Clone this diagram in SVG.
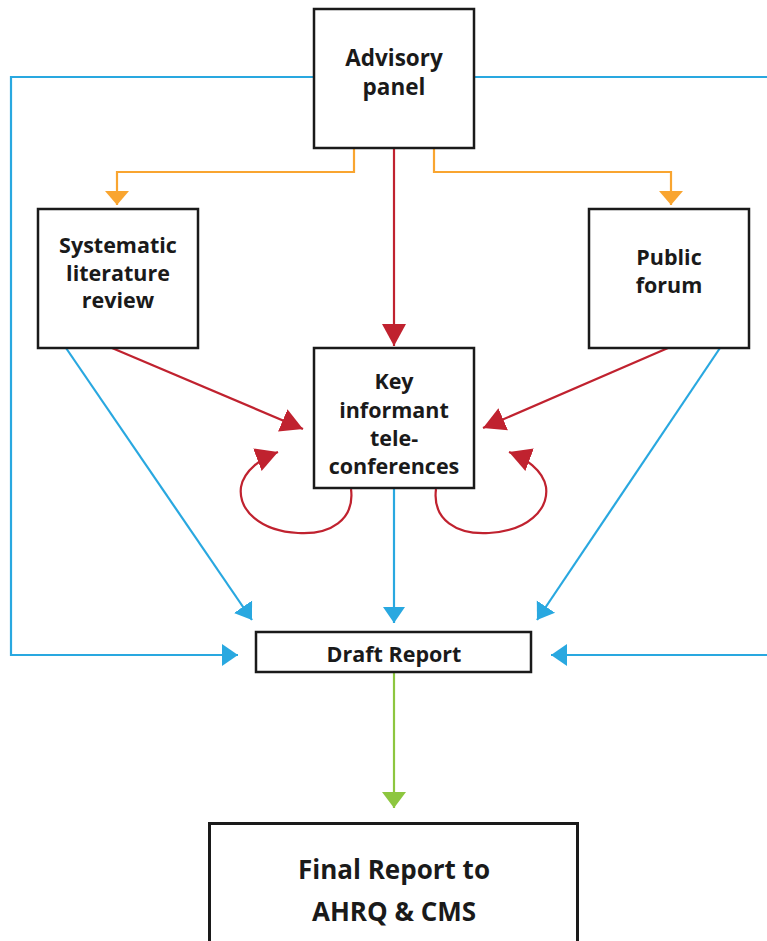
<svg xmlns="http://www.w3.org/2000/svg" width="767" height="941" viewBox="0 0 767 941">
<style>
.box{fill:#fff;stroke:#1a1a1a;stroke-width:2.5}
.t{font-family:"Open Sans","Liberation Sans",sans-serif;font-weight:700;fill:#1a1a1a;text-anchor:middle}
.blue{stroke:#29a8e0;stroke-width:2.2;fill:none}
.orange{stroke:#f9a530;stroke-width:2.2;fill:none}
.red{stroke:#c0222f;stroke-width:2.2;fill:none}
.green{stroke:#8dc63f;stroke-width:2.2;fill:none}
</style>
<defs>
<marker id="ab" markerUnits="userSpaceOnUse" markerWidth="18" markerHeight="24" refX="16" refY="12" orient="auto"><path d="M0,1 L16,12 L0,23 Z" fill="#29a8e0"/></marker>
<marker id="ao" markerUnits="userSpaceOnUse" markerWidth="16" markerHeight="26" refX="14" refY="13" orient="auto"><path d="M0,1 L14,13 L0,25 Z" fill="#f9a530"/></marker>
<marker id="ar" markerUnits="userSpaceOnUse" markerWidth="24" markerHeight="26" refX="22" refY="13" orient="auto"><path d="M0,1 L22,13 L0,25 Z" fill="#c0222f"/></marker>
<marker id="ag" markerUnits="userSpaceOnUse" markerWidth="18" markerHeight="26" refX="16" refY="13" orient="auto"><path d="M0,1 L16,13 L0,25 Z" fill="#8dc63f"/></marker>
</defs>
<g id="connectors">
<path class="blue" d="M313,77 H11 V655 H238" marker-end="url(#ab)"/>
<path class="blue" d="M475,77 H767"/>
<path class="blue" d="M767,655 H551" marker-end="url(#ab)"/>
<path class="orange" d="M354,148 V172 H117 V205" marker-end="url(#ao)"/>
<path class="orange" d="M434,148 V172 H671 V205" marker-end="url(#ao)"/>
<path class="red" d="M394,148 V346" marker-end="url(#ar)"/>
<path class="red" d="M112,348 L303,429" marker-end="url(#ar)"/>
<path class="red" d="M668,348 L483,428" marker-end="url(#ar)"/>
<path class="red" d="M351,489 C355,520 330,535 298,533 C260,531 238,510 241,487 C244,470 262,458 278,452" marker-end="url(#ar)"/>
<path class="red" d="M436,489 C432,520 457,535 489,533 C527,531 549,510 546,487 C543,470 525,458 509,452" marker-end="url(#ar)"/>
<path class="blue" d="M66,348 L252,620" marker-end="url(#ab)"/>
<path class="blue" d="M394,489 V623" marker-end="url(#ab)"/>
<path class="blue" d="M720,348 L537,620" marker-end="url(#ab)"/>
<path class="green" d="M394,672 V808" marker-end="url(#ag)"/>
</g>
<g id="advisory">
<rect class="box" x="314" y="9" width="160" height="139"/>
<text class="t" font-size="22.5" x="394" y="66">Advisory</text>
<text class="t" font-size="22.5" x="394" y="95">panel</text>
</g>
<g id="systematic">
<rect class="box" x="38" y="209" width="160" height="139"/>
<text class="t" font-size="21.5" x="118" y="253">Systematic</text>
<text class="t" font-size="21.5" x="118" y="281">literature</text>
<text class="t" font-size="21.5" x="118" y="308">review</text>
</g>
<g id="public">
<rect class="box" x="589" y="209" width="160" height="139"/>
<text class="t" font-size="21.5" x="669" y="265">Public</text>
<text class="t" font-size="21.5" x="669" y="293">forum</text>
</g>
<g id="key">
<rect class="box" x="314" y="348" width="160" height="140"/>
<text class="t" font-size="21.5" x="394" y="389">Key</text>
<text class="t" font-size="21.5" x="394" y="418">informant</text>
<text class="t" font-size="21.5" x="394" y="446">tele-</text>
<text class="t" font-size="21.5" x="394" y="474">conferences</text>
</g>
<g id="draft">
<rect class="box" x="256" y="632" width="275" height="40"/>
<text class="t" font-size="21.5" x="394" y="662">Draft Report</text>
</g>
<g id="final">
<rect x="209.5" y="823.5" width="368" height="130" fill="#fff" stroke="#1a1a1a" stroke-width="3"/>
<text class="t" font-size="26" x="394" y="879">Final Report to</text>
<text class="t" font-size="26" x="394" y="921">AHRQ &amp; CMS</text>
</g>
</svg>
